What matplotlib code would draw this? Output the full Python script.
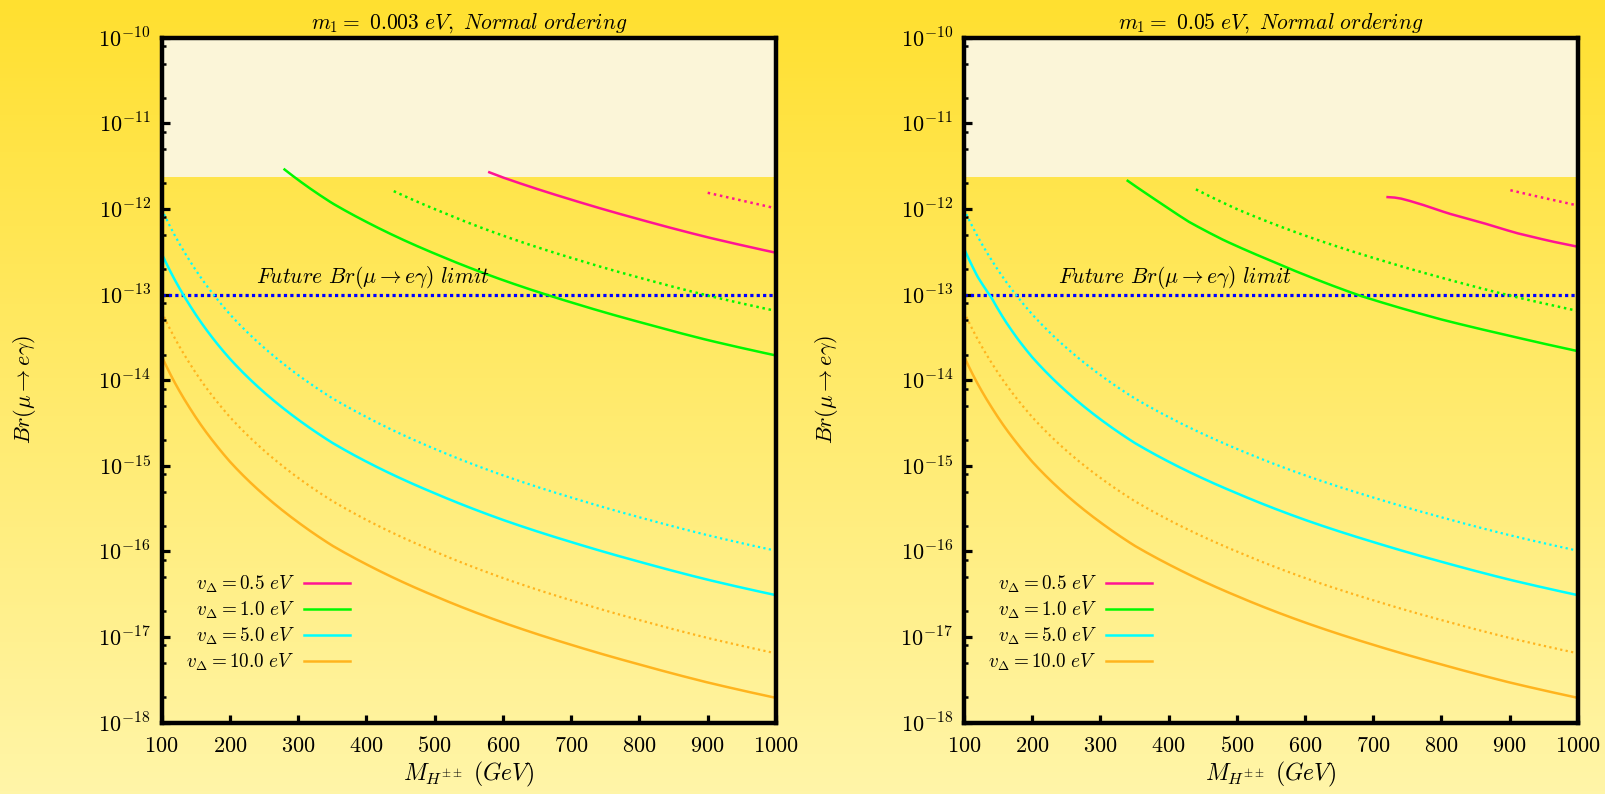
import numpy as np
import matplotlib
matplotlib.use('Agg')
import matplotlib.pyplot as plt
import matplotlib.colors as mcolors
from matplotlib.lines import Line2D
from matplotlib.ticker import LogLocator, FuncFormatter, NullFormatter

plt.rcParams['mathtext.fontset'] = 'cm'
plt.rcParams['font.family'] = 'DejaVu Serif'

# ---- data (M in GeV, Br dimensionless) ----
M_grid = [100, 120, 140, 160, 180, 200, 250, 300, 350, 400, 500, 600, 700, 800, 900, 1000]

# left panel: m1 = 0.003 eV
L_cyan_solid = [3.02e-13, 1.45e-13, 7.76e-14, 4.47e-14, 2.75e-14, 1.78e-14, 7.24e-15, 3.47e-15,
                1.86e-15, 1.12e-15, 4.79e-16, 2.34e-16, 1.29e-16, 7.59e-17, 4.68e-17, 3.09e-17]
L_cyan_dot = [1.0e-12, 4.79e-13, 2.57e-13, 1.48e-13, 9.12e-14, 5.89e-14, 2.40e-14, 1.15e-14,
              6.17e-15, 3.72e-15, 1.58e-15, 7.76e-16, 4.27e-16, 2.51e-16, 1.55e-16, 1.02e-16]
L_orange_solid = [1.91e-14, 9.12e-15, 4.90e-15, 2.82e-15, 1.74e-15, 1.12e-15, 4.57e-16, 2.19e-16,
                  1.17e-16, 7.08e-17, 3.02e-17, 1.48e-17, 8.13e-18, 4.79e-18, 2.95e-18, 1.95e-18]
L_orange_dot = [6.31e-14, 3.02e-14, 1.62e-14, 9.33e-15, 5.75e-15, 3.72e-15, 1.51e-15, 7.24e-16,
                3.89e-16, 2.34e-16, 1.0e-16, 4.90e-17, 2.69e-17, 1.58e-17, 9.77e-18, 6.46e-18]
L_green_solid_M = [280, 300, 350, 400, 500, 600, 700, 800, 900, 1000]
L_green_solid = [2.9e-12, 2.19e-12, 1.17e-12, 7.08e-13, 3.02e-13, 1.48e-13, 8.13e-14, 4.79e-14, 2.95e-14, 1.95e-14]
L_green_dot_M = [440, 500, 600, 700, 800, 900, 1000]
L_green_dot = [1.62e-12, 1.0e-12, 4.90e-13, 2.69e-13, 1.58e-13, 9.77e-14, 6.46e-14]
L_pink_solid_M = [580, 600, 700, 800, 900, 1000]
L_pink_solid = [2.69e-12, 2.34e-12, 1.29e-12, 7.59e-13, 4.68e-13, 3.09e-13]
L_pink_dot_M = [900, 950, 1000]
L_pink_dot = [1.55e-12, 1.26e-12, 1.02e-12]

# right panel: m1 = 0.05 eV
R_cyan_solid = [3.47e-13, 1.62e-13, 9.3e-14, 5.0e-14, 2.95e-14, 1.86e-14, 7.4e-15, 3.5e-15,
                1.86e-15, 1.12e-15, 4.79e-16, 2.34e-16, 1.29e-16, 7.59e-17, 4.68e-17, 3.09e-17]
R_cyan_dot = L_cyan_dot
R_orange_solid = L_orange_solid
R_orange_dot = L_orange_dot
R_green_solid_M = [340, 360, 390, 430, 480, 540, 600, 680, 800, 900, 1000]
R_green_solid = [2.14e-12, 1.66e-12, 1.15e-12, 7.08e-13, 4.37e-13, 2.69e-13, 1.70e-13, 9.77e-14,
                 5.13e-14, 3.31e-14, 2.19e-14]
R_green_dot_M = L_green_dot_M
R_green_dot = [1.70e-12, 1.0e-12, 4.90e-13, 2.69e-13, 1.58e-13, 9.77e-14, 6.46e-14]
R_pink_solid_M = [721, 730, 740, 750, 770, 810, 860, 910, 960, 1000]
R_pink_solid = [1.38e-12, 1.368e-12, 1.33e-12, 1.27e-12, 1.14e-12, 8.91e-13, 6.92e-13, 5.25e-13,
                4.22e-13, 3.63e-13]
R_pink_dot_M = [901, 950, 1000]
R_pink_dot = [1.66e-12, 1.35e-12, 1.10e-12]

meg_limit = 2.4e-12
future_limit = 1e-13
x_ticks = [100, 200, 300, 400, 500, 600, 700, 800, 900, 1000]
legend_labels = [r'$v_{\Delta} = 0.5\ eV$', r'$v_{\Delta} = 1.0\ eV$',
                 r'$v_{\Delta} = 5.0\ eV$', r'$v_{\Delta} = 10.0\ eV$']
titles = [r'$m_1 =\ 0.003\ eV,\ Normal\ ordering$', r'$m_1 =\ 0.05\ eV,\ Normal\ ordering$']

PINK = '#FF1493'
GREEN = '#00F800'
CYAN = '#00FFFF'
ORANGE = '#FFB41E'
DOT = (0, (1, 1.5))

fig = plt.figure(figsize=(16.05, 7.94), dpi=100)

# yellow gradient backdrop
bg = fig.add_axes([0, 0, 1, 1], zorder=-10)
grad = np.linspace(0, 1, 256)[:, None]
cmap = mcolors.LinearSegmentedColormap.from_list('bg', ['#FFE030', '#FFF5A8'])
bg.imshow(grad, aspect='auto', cmap=cmap, extent=[0, 1, 0, 1], origin='upper')
bg.axis('off')


def powerlaw_path(xs, ys, n=300):
    # join the read points with power-law pieces (straight in log-log), so the
    # drawn curve bends smoothly on the linear mass axis
    lx = np.log10(xs)
    ly = np.log10(ys)
    xd = np.logspace(lx[0], lx[-1], n)
    return xd, 10 ** np.interp(np.log10(xd), lx, ly)


def panel(rect, title, curves):
    ax = fig.add_axes(rect)
    ax.set_facecolor('none')
    ax.set_yscale('log')
    ax.axhspan(meg_limit, 1e-10, color='#FBF5D8', zorder=0, lw=0)

    for xs, ys, col, ls, lw in curves:
        xd, yd = powerlaw_path(xs, ys)
        ax.plot(xd, yd, color=col, linestyle=ls, lw=lw, zorder=3)

    ax.axhline(future_limit, color='#0000FF', linestyle=(0, (1, 1)), lw=2.3, zorder=2)
    ax.text(238, 1.6e-13, r'$Future\ Br(\mu\rightarrow e\gamma)\ limit$',
            fontsize=15.5, va='center', ha='left')

    ax.set_xlim(100, 1000)
    ax.set_ylim(1e-18, 1e-10)
    ax.set_xticks(x_ticks)
    ax.set_xticklabels([r'$%d$' % v for v in x_ticks])
    ax.yaxis.set_major_locator(LogLocator(base=10, numticks=20))
    ax.yaxis.set_minor_locator(LogLocator(base=10, subs=(2, 5, 8), numticks=20))
    ax.yaxis.set_minor_formatter(NullFormatter())
    ax.yaxis.set_major_formatter(FuncFormatter(lambda v, p: r'$10^{%d}$' % int(round(np.log10(v)))))
    ax.tick_params(axis='both', which='both', direction='in', top=False, right=False)
    ax.tick_params(which='major', length=6, width=2.3, labelsize=16)
    ax.tick_params(which='minor', length=3, width=1.8)
    ax.tick_params(axis='y', pad=8)
    ax.tick_params(axis='x', pad=9)
    for s in ax.spines.values():
        s.set_linewidth(3.2)
        s.set_zorder(5)

    ax.set_title(title, fontsize=15.5, pad=7)
    ax.set_xlabel(r'$M_{H^{\pm\pm}}\ (GeV)$', fontsize=17)
    ax.xaxis.set_label_coords(0.5, -0.054)
    ax.set_ylabel(r'$Br(\mu\rightarrow e\gamma)$', fontsize=16)
    ax.yaxis.set_label_coords(-0.202, 0.487)

    handles = [Line2D([], [], color=c, lw=1.8) for c in (PINK, GREEN, CYAN, ORANGE)]
    ax.legend(handles, legend_labels, loc='lower right', bbox_to_anchor=(0.307, 0.072),
              frameon=False, markerfirst=False, handlelength=2.4, handletextpad=0.5,
              labelspacing=0.25, fontsize=13.8, borderpad=0, borderaxespad=0)
    return ax


left_curves = [
    (M_grid, L_cyan_dot, CYAN, DOT, 1.6),
    (M_grid, L_orange_dot, ORANGE, DOT, 1.6),
    (L_green_dot_M, L_green_dot, GREEN, DOT, 1.8),
    (L_pink_dot_M, L_pink_dot, PINK, DOT, 1.8),
    (M_grid, L_cyan_solid, CYAN, '-', 1.8),
    (M_grid, L_orange_solid, ORANGE, '-', 1.8),
    (L_green_solid_M, L_green_solid, GREEN, '-', 1.8),
    (L_pink_solid_M, L_pink_solid, PINK, '-', 1.8),
]
right_curves = [
    (M_grid, R_cyan_dot, CYAN, DOT, 1.6),
    (M_grid, R_orange_dot, ORANGE, DOT, 1.6),
    (R_green_dot_M, R_green_dot, GREEN, DOT, 1.8),
    (R_pink_dot_M, R_pink_dot, PINK, DOT, 1.8),
    (M_grid, R_cyan_solid, CYAN, '-', 1.8),
    (M_grid, R_orange_solid, ORANGE, '-', 1.8),
    (R_green_solid_M, R_green_solid, GREEN, '-', 1.8),
    (R_pink_solid_M, R_pink_solid, PINK, '-', 1.8),
]

panel([0.10075, 0.0898, 0.3827, 0.8625], titles[0], left_curves)
panel([0.60062, 0.0898, 0.3825, 0.8625], titles[1], right_curves)

fig.savefig('out.png', dpi=100)
